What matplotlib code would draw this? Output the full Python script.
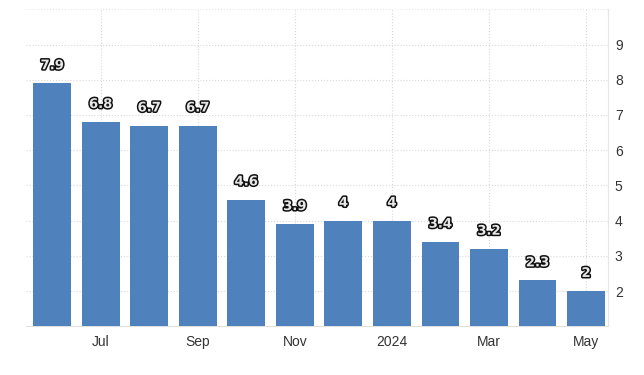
import matplotlib.pyplot as plt
import matplotlib.patheffects as pe

plt.rcParams["font.family"] = ["Liberation Sans", "DejaVu Sans"]

months = ["Jun", "Jul", "Aug", "Sep", "Oct", "Nov", "Dec", "2024", "Feb", "Mar", "Apr", "May"]
values = [7.9, 6.8, 6.7, 6.7, 4.6, 3.9, 4.0, 4.0, 3.4, 3.2, 2.3, 2.0]
value_labels = ["7.9", "6.8", "6.7", "6.7", "4.6", "3.9", "4", "4", "3.4", "3.2", "2.3", "2"]
tick_idx = [1, 3, 5, 7, 9, 11]
yticks = [2, 3, 4, 5, 6, 7, 8, 9]

fig = plt.figure(figsize=(6.44, 3.75), dpi=100)
ax = fig.add_axes([0.0404, 0.130, 0.9036, 0.845])

x = list(range(len(values)))
ax.bar(x, values, width=0.78, bottom=0, color="#4f81bd", zorder=3)

for xi, v, lab in zip(x, values, value_labels):
    ax.annotate(lab, (xi, v), xytext=(0, 8), textcoords="offset points",
                ha="center", va="bottom", fontsize=9.5, fontweight="bold",
                family="DejaVu Sans", color="#e8e8e8", zorder=5,
                path_effects=[pe.withStroke(linewidth=2.2, foreground="#111111")])

ax.set_xlim(-0.54, 11.45)
ax.set_ylim(1, 10)
ax.set_xticks(tick_idx)
ax.set_xticklabels([months[i] for i in tick_idx])
ax.set_yticks(yticks)
ax.yaxis.tick_right()

ax.grid(True, color="#d9d9d9", linestyle=":", linewidth=0.8, zorder=0)
ax.axhline(10, color="#e6e6e6", linewidth=0.8, linestyle=":")

for s in ["top", "left"]:
    ax.spines[s].set_visible(False)
ax.spines["bottom"].set_color("#e0e0e0")
ax.spines["right"].set_color("#e6e6e6")
ax.tick_params(axis="both", length=0, labelsize=10, colors="#333333")
ax.tick_params(axis="y", pad=5)
ax.tick_params(axis="x", pad=6)

fig.savefig("out.png", dpi=100)
